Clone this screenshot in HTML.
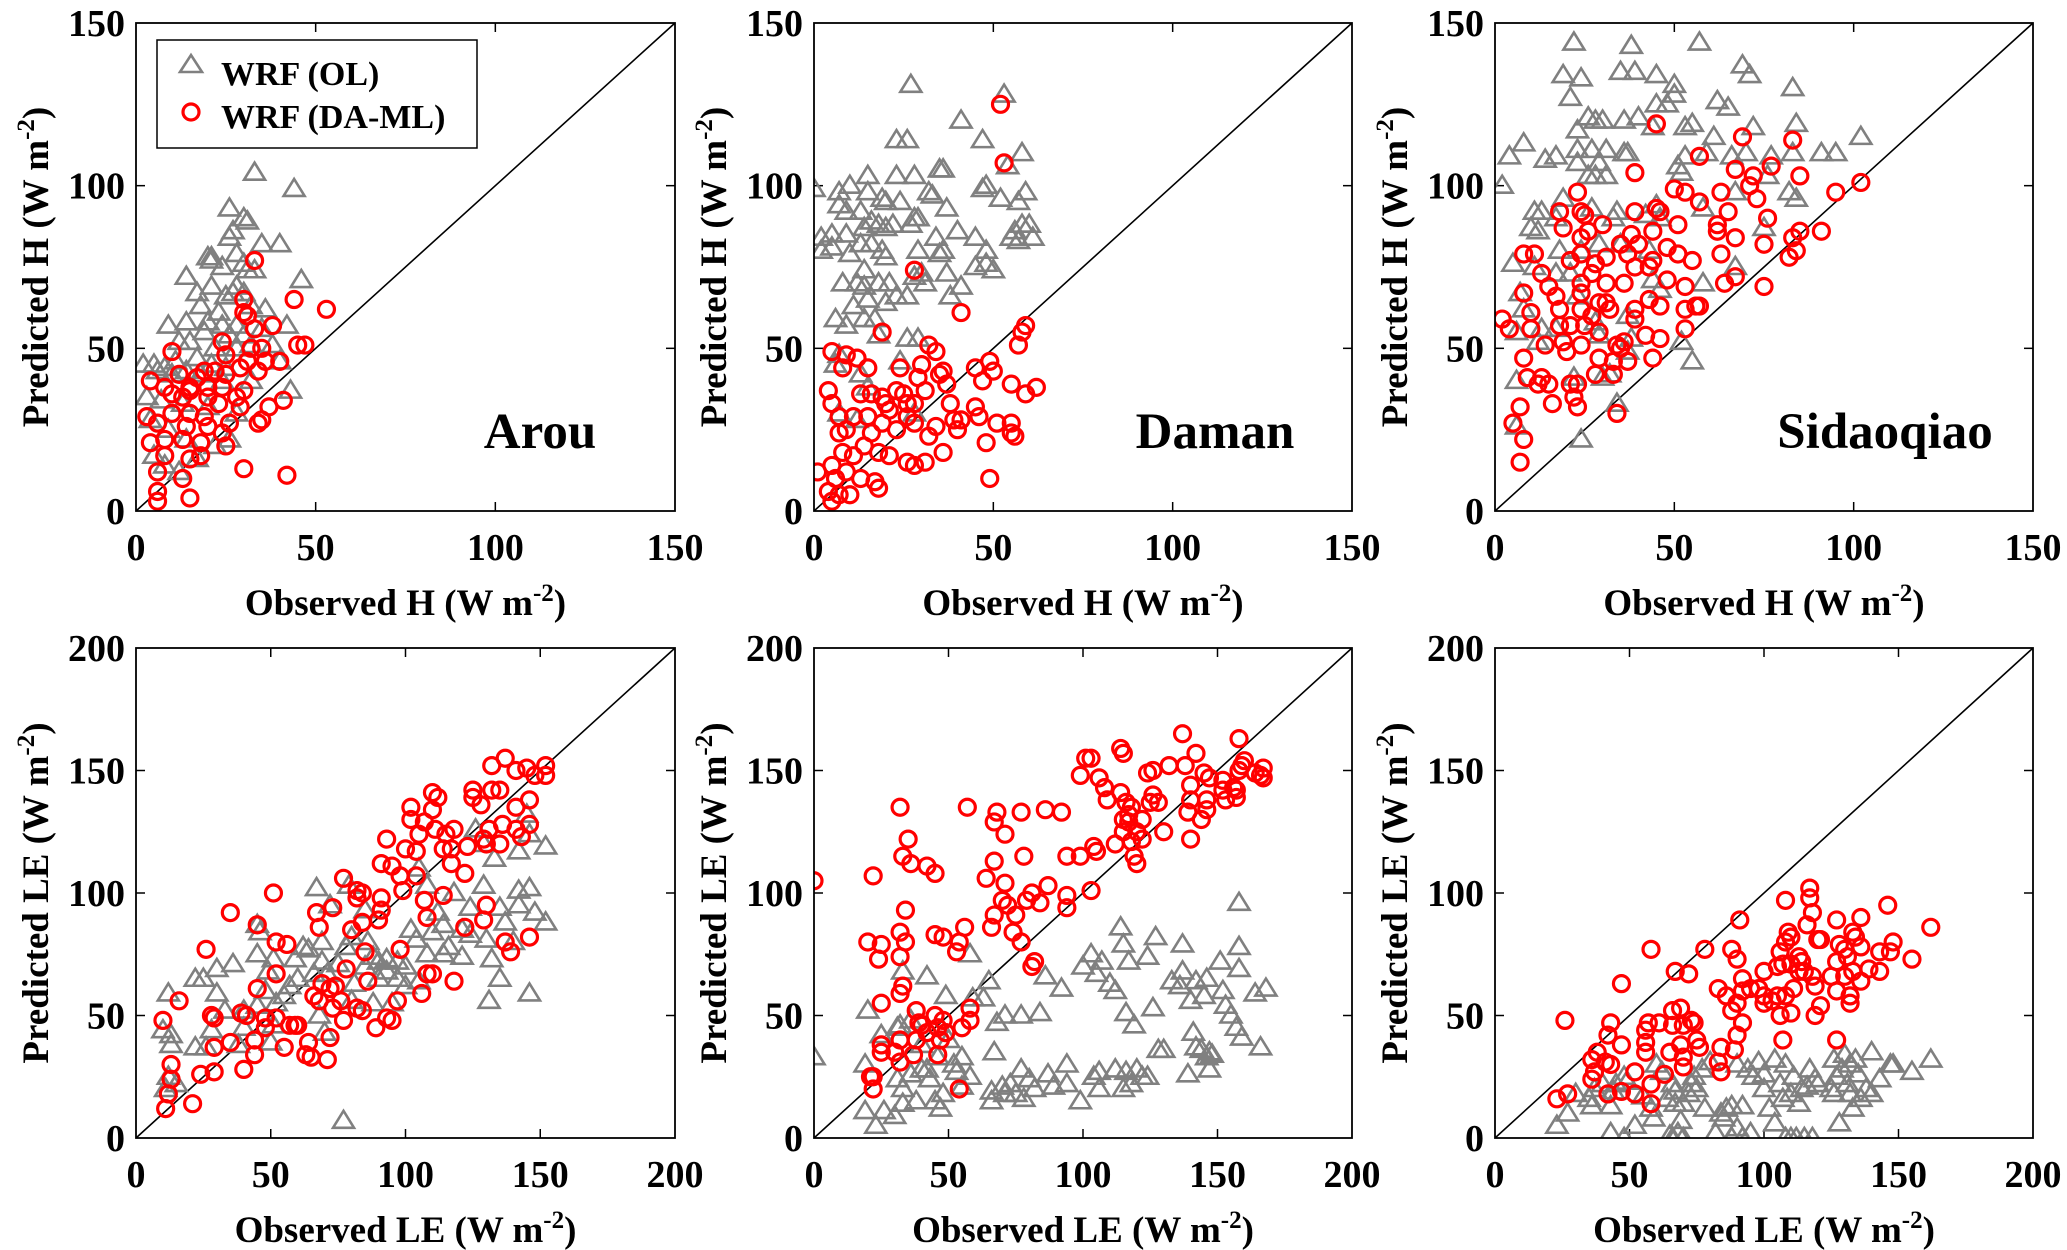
<!DOCTYPE html>
<html><head><meta charset="utf-8">
<style>
html,body{margin:0;padding:0;background:#fff;}
svg{display:block;font-family:"Liberation Serif",serif;font-weight:bold;}
</style></head>
<body>
<svg id="fig" width="2067" height="1250" viewBox="0 0 2067 1250" xmlns="http://www.w3.org/2000/svg"></svg>
<script>
// ---- data ----
const arouH_OL_x=[33,44,26,30,31,27,26,35,40,20,21,21,28,30,31,33,14,24,46,17,21,28,25,27,30,32,36,18,23,14,20,24,28,9,42,19,26,30,35,12,15,22,28,32,38,2,5,8,11,14,17,21,25,40,6,10,18,24,32,43,3,7,13,20,28,4,9,14,22,5,8,12,17,26];
const arouH_OL_y=[104,99,93,90,89,86,84,82,82,78,78,77,79,76,74,74,72,75,71,67,69,69,66,67,67,63,62,63,61,58,58,57,57,57,57,55,54,54,56,52,52,50,50,51,51,45,45,44,46,43,47,45,44,46,43,42,42,40,40,37,35,34,33,32,30,28,25,22,20,17,14,12,16,22];
const arouH_DA_x=[33,30,44,53,30,31,38,33,45,47,10,24,32,35,25,31,36,40,29,19,22,34,12,17,25,4,8,15,20,24,30,15,20,28,41,10,13,23,29,37,3,10,15,19,26,35,34,6,14,20,24,4,8,13,18,25,8,15,18,6,13,30,42,6,15,6];
const arouH_DA_y=[77,65,65,62,61,60,57,56,51,51,49,52,50,50,48,46,46,46,44,43,43,43,42,41,42,40,38,38,38,38,37,37,35,35,34,36,35,33,32,32,29,30,30,29,27,28,27,27,26,26,24,21,22,22,21,20,17,16,17,12,10,13,11,6,4,3];

const damanH_OL_x=[27,53,41,23,26,47,58,54,15,23,28,35,36,0,7,10,15,32,33,47,48,59,57,52,19,20,24,7,9,13,37,28,29,27,58,60,56,5,2,9,14,16,18,20,22,40,45,57,61,55,2,5,10,13,16,19,34,36,29,48,20,35,45,48,50,14,37,30,8,12,14,18,21,28,31,41,38,26,23,15,20,11,6,9,14,17,18,26,29,7,6,24,13,15,7,12,28];
const damanH_OL_y=[131,128,120,114,114,114,110,106,103,103,103,105,105,99,98,100,98,98,97,99,100,98,95,96,96,95,95,94,92,92,93,90,90,88,88,88,86,85,84,85,87,89,88,87,88,86,84,83,84,84,80,81,79,82,82,80,84,80,80,80,78,79,75,76,74,74,73,73,70,70,69,70,70,72,70,69,66,66,66,65,64,63,59,57,59,59,54,53,53,48,45,46,42,38,30,28,30];
const damanH_DA_x=[52,53,28,41,59,58,57,19,32,34,5,9,12,15,8,24,30,45,49,50,36,29,35,47,37,55,62,59,4,13,16,19,23,25,31,20,26,28,38,5,21,45,7,11,15,26,28,39,41,46,51,55,19,34,7,9,16,23,40,55,56,32,48,14,18,36,8,11,21,26,31,5,28,9,1,13,17,6,49,18,4,10,7,5];
const damanH_DA_y=[125,107,74,61,57,55,51,55,51,49,49,48,47,44,44,44,45,44,46,43,43,41,42,40,39,39,38,36,37,36,36,35,37,36,37,33,33,33,33,33,31,32,29,29,29,29,27,28,28,29,27,27,27,26,24,25,24,25,25,24,23,23,21,20,18,18,18,17,17,15,15,14,14,12,12,10,9,10,10,7,6,5,5,3];

const sidaoH_OL_x=[22,38,57,69,19,24,35,39,45,50,71,83,21,50,62,65,48,45,40,36,26,28,30,23,44,53,55,72,84,8,61,27,31,23,36,37,4,17,14,53,59,70,66,77,83,91,95,102,23,29,26,28,31,51,52,76,2,67,82,84,19,45,27,11,13,34,58,17,33,42,46,10,12,75,18,24,29,35,43,5,11,17,21,67,44,58,46,7,23,8,13,17,28,37,6,29,38,12,37,52,55,30,32,6,22,34,6,24];
const sidaoH_OL_y=[144,143,144,137,134,133,135,135,134,131,134,130,127,128,126,124,125,125,121,120,121,120,120,117,118,118,119,118,119,113,115,111,111,111,110,110,109,109,108,109,110,110,109,109,110,110,110,115,107,107,103,103,103,106,104,103,100,98,98,96,96,94,93,92,92,92,93,90,90,91,90,87,86,87,80,80,82,82,80,76,75,73,73,75,71,70,68,67,66,62,56,56,58,60,55,54,53,52,49,52,46,41,42,40,41,33,26,22];
const sidaoH_DA_x=[45,69,83,57,39,67,77,72,85,102,50,53,63,71,23,57,73,95,18,24,25,39,45,46,65,76,30,51,62,19,26,44,85,91,38,24,62,67,83,35,40,75,48,51,11,8,24,37,44,21,31,28,63,82,84,39,55,13,27,43,24,36,48,31,15,24,8,53,64,67,75,17,29,31,32,18,24,39,43,46,56,57,53,10,2,4,10,27,39,18,21,25,29,36,42,46,53,34,19,24,14,20,29,35,37,33,44,8,9,13,12,15,21,23,28,33,22,16,23,34,7,5,8,7];
const sidaoH_DA_y=[119,115,114,109,104,105,106,103,103,101,99,98,98,100,98,95,96,98,92,92,91,92,93,92,92,90,88,88,88,87,86,86,86,86,85,84,86,84,84,82,82,82,81,79,79,79,79,79,77,77,78,76,79,78,80,75,77,73,73,75,70,70,71,70,69,67,67,69,70,72,69,66,64,64,62,62,62,62,65,63,63,63,62,61,59,56,56,60,59,57,57,57,55,52,54,53,56,51,52,51,51,49,47,50,46,46,47,47,41,41,39,39,39,39,42,42,35,33,32,30,32,27,22,15];

const arouLE_OL_x=[77,12,25,30,30,36,45,45,46,67,79,72,51,59,62,64,69,71,80,85,86,88,90,93,97,100,102,104,105,108,112,114,114,116,118,121,121,124,124,126,129,129,130,132,133,135,135,137,140,142,142,142,145,146,146,146,148,152,152,131,110,108,105,100,97,93,90,85,81,78,75,69,66,60,57,55,52,49,48,51,50,45,40,40,38,33,28,26,22,22,15,13,13,10,12,11,68,70,88,95,80];
const arouLE_OL_y=[7,59,65,59,69,71,75,87,84,102,103,95,73,73,78,77,72,67,82,93,80,74,72,73,65,62,85,81,110,103,92,87,75,78,100,74,85,94,83,126,120,103,81,73,114,94,65,88,80,101,95,117,132,102,124,59,92,119,88,56,84,75,64,70,72,68,65,70,63,78,71,80,67,65,62,58,55,68,60,46,39,54,52,45,38,52,44,37,65,37,22,38,42,44,25,20,50,43,55,55,56];
const arouLE_DA_x=[152,137,145,132,141,148,152,102,110,112,125,125,132,135,128,141,146,102,107,110,136,146,93,105,111,115,118,131,141,143,100,104,114,117,123,129,130,135,117,91,95,98,122,77,104,99,51,82,84,91,107,114,35,67,73,82,84,90,91,108,129,130,122,45,68,80,98,52,56,26,85,137,139,146,52,69,78,72,74,86,106,108,110,118,66,45,68,73,76,82,84,97,16,28,29,39,41,48,52,77,57,59,60,10,48,89,93,95,35,44,29,55,64,72,44,63,65,71,13,24,29,40,13,12,21,11];
const arouLE_DA_y=[152,155,151,152,150,148,148,135,141,139,142,139,142,142,136,135,138,130,129,134,128,128,122,124,126,124,126,126,126,123,118,117,118,118,119,122,120,120,112,112,111,107,108,106,107,101,100,101,100,98,97,99,92,92,94,98,88,89,93,90,89,95,86,87,86,85,77,80,79,77,76,80,76,82,67,63,69,61,62,64,59,67,67,64,58,61,56,53,56,53,52,56,56,50,49,51,50,49,49,48,46,46,46,48,45,45,49,48,39,40,37,37,39,41,34,34,33,32,30,26,27,28,24,18,14,12];

const damanLE_OL_x=[0,20,25,32,33,42,49,58,59,65,68,71,77,84,86,92,100,103,105,107,110,112,114,115,117,116,119,124,126,127,133,136,137,137,140,141,142,144,145,146,146,147,151,152,153,155,157,158,158,158,159,164,166,168,19,19,23,26,30,31,33,33,36,38,40,42,43,45,47,48,52,53,55,66,66,67,70,71,73,75,77,78,80,82,87,89,94,94,99,104,106,106,112,115,116,118,120,122,124,128,130,139,142,147,148,31,36,40,46,50,55,58,63];
const damanLE_OL_y=[33,52,42,46,68,66,58,75,57,64,47,50,50,51,66,61,70,75,67,72,63,60,86,79,72,51,46,74,53,82,64,62,79,68,56,43,64,36,58,65,33,35,72,60,54,50,45,78,69,96,41,59,37,61,30,11,5,11,9,24,20,14,26,15,28,28,24,15,12,18,30,27,21,19,15,35,21,18,22,18,28,16,24,20,26,21,30,22,15,25,20,27,28,20,27,22,28,25,25,36,36,26,37,28,34,45,48,38,33,40,33,25,57];
const damanLE_DA_x=[0,22,32,57,68,67,77,86,92,33,35,36,42,45,64,67,71,78,71,20,24,25,32,32,34,34,33,32,25,45,48,53,54,56,66,67,70,72,75,74,77,79,81,84,87,94,94,82,81,38,39,40,45,46,48,49,58,58,55,47,42,38,32,30,32,37,25,25,21,22,22,46,54,99,101,103,106,108,109,114,114,115,116,117,118,115,112,104,105,99,94,103,115,117,118,119,120,120,122,122,124,126,125,126,128,130,132,137,138,142,140,140,140,139,144,145,146,146,147,152,152,153,156,157,157,158,158,159,160,164,166,167,167];
const damanLE_DA_y=[105,107,135,135,133,129,133,134,133,115,122,112,111,108,106,113,104,115,124,80,73,79,84,74,80,93,62,59,55,83,82,76,80,86,86,91,97,95,91,84,80,97,100,96,103,99,94,72,70,52,47,46,50,45,48,43,53,48,45,40,43,40,40,35,31,34,38,35,25,25,20,34,20,148,155,155,147,143,138,141,159,157,137,132,135,130,120,119,117,115,115,101,125,129,121,115,112,125,130,122,149,150,137,140,137,125,152,165,152,157,144,138,122,133,130,149,138,134,147,146,142,138,143,142,139,163,150,152,154,149,148,151,147];

const sidaoLE_OL_x=[23,27,35,36,37,40,43,43,45,48,49,52,55,58,59,62,64,65,66,67,67,68,69,70,70,72,73,74,75,77,78,80,82,84,85,86,88,88,90,90,92,92,94,95,98,100,100,102,104,104,106,107,108,108,110,110,111,112,113,115,116,117,118,119,120,125,126,127,128,129,130,131,132,132,133,135,136,138,140,140,143,147,148,155,162,60,66,96,114,126,134,48,44,30];
const sidaoLE_OL_y=[5,10,16,13,20,22,2,13,22,0,23,5,17,12,8,27,16,1,0,19,14,2,7,0,14,18,22,25,20,28,12,31,2,10,8,12,0,13,30,4,13,0,28,2,31,26,20,12,32,6,22,16,0,30,18,0,25,0,14,0,21,28,0,24,22,20,32,25,6,28,34,22,30,18,12,26,16,20,35,18,24,30,30,27,32,30,22,25,20,18,32,25,19,18];
const sidaoLE_DA_x=[117,117,108,146,91,127,136,118,116,162,58,78,88,90,67,72,92,109,110,108,120,121,133,134,148,136,128,131,130,143,147,155,106,113,114,127,100,105,107,110,113,115,118,125,130,133,136,139,143,47,83,86,92,95,98,100,103,105,108,111,119,127,132,132,121,119,106,110,100,90,88,66,69,92,26,43,57,56,61,66,70,73,74,42,47,56,69,75,76,84,89,90,107,127,38,36,41,43,56,65,70,83,37,52,58,63,70,84,36,42,47,52,58,23,27];
const sidaoLE_DA_y=[102,98,97,95,89,89,90,92,87,86,77,77,77,73,68,67,65,84,82,80,81,81,84,82,80,78,79,74,77,76,76,73,76,74,72,72,68,70,71,71,68,68,66,66,66,68,64,69,68,63,61,58,60,61,61,58,56,58,58,61,62,60,58,55,54,50,50,51,55,55,52,52,53,47,48,47,47,44,47,46,46,48,47,42,38,39,38,40,37,37,36,42,40,40,35,32,31,30,35,35,33,31,27,27,22,26,29,27,24,18,19,18,14,16,18];

const panels=[
 {name:'arou-h',x0:136,x1:675,y0:23,y1:511,max:150,ticks:[0,50,100,150],xt:'Observed H',yt:'Predicted H',site:'Arou',sx:540,olx:arouH_OL_x,oly:arouH_OL_y,dax:arouH_DA_x,day:arouH_DA_y},
 {name:'daman-h',x0:814,x1:1352,y0:23,y1:511,max:150,ticks:[0,50,100,150],xt:'Observed H',yt:'Predicted H',site:'Daman',sx:1215,olx:damanH_OL_x,oly:damanH_OL_y,dax:damanH_DA_x,day:damanH_DA_y},
 {name:'sidaoqiao-h',x0:1495,x1:2033,y0:23,y1:511,max:150,ticks:[0,50,100,150],xt:'Observed H',yt:'Predicted H',site:'Sidaoqiao',sx:1885,olx:sidaoH_OL_x,oly:sidaoH_OL_y,dax:sidaoH_DA_x,day:sidaoH_DA_y},
 {name:'arou-le',x0:136,x1:675,y0:648,y1:1138,max:200,ticks:[0,50,100,150,200],xt:'Observed LE',yt:'Predicted LE',site:'',olx:arouLE_OL_x,oly:arouLE_OL_y,dax:arouLE_DA_x,day:arouLE_DA_y},
 {name:'daman-le',x0:814,x1:1352,y0:648,y1:1138,max:200,ticks:[0,50,100,150,200],xt:'Observed LE',yt:'Predicted LE',site:'',olx:damanLE_OL_x,oly:damanLE_OL_y,dax:damanLE_DA_x,day:damanLE_DA_y},
 {name:'sidaoqiao-le',x0:1495,x1:2033,y0:648,y1:1138,max:200,ticks:[0,50,100,150,200],xt:'Observed LE',yt:'Predicted LE',site:'',olx:sidaoLE_OL_x,oly:sidaoLE_OL_y,dax:sidaoLE_DA_x,day:sidaoLE_DA_y}
];

const NS='http://www.w3.org/2000/svg';
const svg=document.getElementById('fig');
function mk(tag,attrs,parent){const e=document.createElementNS(NS,tag);for(const k in attrs)e.setAttribute(k,attrs[k]);(parent||svg).appendChild(e);return e;}

panels.forEach(p=>{
  const g=mk('g',{});
  
  
  const sx=v=>p.x0+(v/p.max)*(p.x1-p.x0);
  const sy=v=>p.y1-(v/p.max)*(p.y1-p.y0);
  const cid='clip-'+p.name;
  const cp=mk('clipPath',{id:cid},g);
  mk('rect',{x:p.x0,y:p.y0,width:p.x1-p.x0,height:p.y1-p.y0},cp);
  const l=mk('line',{x1:sx(0),y1:sy(0),x2:sx(p.max),y2:sy(p.max),stroke:'#000','stroke-width':1.6},g);
  
  
  p.ticks.forEach(t=>{
    const X=sx(t),Y=sy(t);
    if(t>0&&t<p.max){
      mk('line',{x1:X,y1:p.y1,x2:X,y2:p.y1-9,stroke:'#000','stroke-width':1.5},g);
      mk('line',{x1:X,y1:p.y0,x2:X,y2:p.y0+9,stroke:'#000','stroke-width':1.5},g);
      mk('line',{x1:p.x0,y1:Y,x2:p.x0+9,y2:Y,stroke:'#000','stroke-width':1.5},g);
      mk('line',{x1:p.x1,y1:Y,x2:p.x1-9,y2:Y,stroke:'#000','stroke-width':1.5},g);
    }
    const xl=mk('text',{x:X,y:p.y1+49,'text-anchor':'middle','font-size':38},g);
    xl.textContent=t;
    
    
    const yl=mk('text',{x:p.x0-11,y:Y+13,'text-anchor':'end','font-size':38},g);
    yl.textContent=t;
    
    
  });
  const cg=mk('g',{'clip-path':'url(#'+cid+')'},g);
  p.olx.forEach((v,i)=>{
    const X=sx(v),Y=sy(p.oly[i]);
    const tri=mk('polygon',{points:`${X-10.5},${Y+7} ${X+10.5},${Y+7} ${X},${Y-10}`,fill:'none',stroke:'#808080','stroke-width':2.6},cg);
    
    
  });
  p.dax.forEach((v,i)=>{
    const c=mk('circle',{cx:sx(v),cy:sy(p.day[i]),r:8,fill:'none',stroke:'#ff0000','stroke-width':3.2},cg);
    
    
  });
  const fr=mk('rect',{x:p.x0,y:p.y0,width:p.x1-p.x0,height:p.y1-p.y0,fill:'none',stroke:'#000','stroke-width':1.8},g);
  
  
  const xt=mk('text',{x:(p.x0+p.x1)/2,y:p.y1+104,'text-anchor':'middle','font-size':37},g);
  xt.innerHTML=p.xt+' (W m<tspan dy="-14" font-size="25">-2</tspan><tspan dy="14">)</tspan>';
  
  
  const yc=(p.y0+p.y1)/2, yx=p.x0-88;
  const yt=mk('text',{x:yx,y:yc,'text-anchor':'middle','font-size':37,transform:`rotate(-90 ${yx} ${yc})`},g);
  yt.innerHTML=p.yt+' (W m<tspan dy="-14" font-size="25">-2</tspan><tspan dy="14">)</tspan>';
  
  
  if(p.site){
    const st=mk('text',{x:p.sx,y:448,'text-anchor':'middle','font-size':51},g);
    st.textContent=p.site;
    
    
  }
});

const lg=mk('g',{});


mk('rect',{x:157,y:40,width:320,height:108,fill:'#fff',stroke:'#000','stroke-width':1.5},lg);
const lt=mk('polygon',{points:'180,72 202,72 191,55',fill:'none',stroke:'#808080','stroke-width':2.6},lg);


const t1=mk('text',{x:221,y:85,'font-size':34},lg);
t1.textContent='WRF (OL)';


const lc=mk('circle',{cx:191,cy:112,r:8,fill:'none',stroke:'#ff0000','stroke-width':3.2},lg);


const t2=mk('text',{x:221,y:128,'font-size':34},lg);
t2.textContent='WRF (DA-ML)';


</script>
</body></html>
